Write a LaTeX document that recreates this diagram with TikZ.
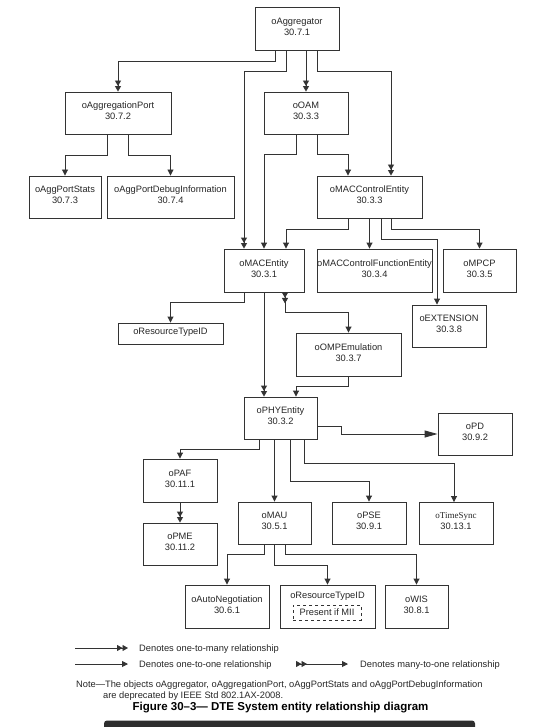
\documentclass[tikz,border=0pt]{standalone}
\usepackage{fontspec}
\setmainfont{Liberation Sans}
\newfontfamily\timesfont{Liberation Serif}
\usetikzlibrary{arrows.meta,positioning}

\begin{document}
\begin{tikzpicture}[x=1pt,y=-1pt,
  every node/.style={font=\fontsize{9.3}{11}\selectfont,text=black!85},
  entity/.style={draw=black!80,line width=.9pt,inner xsep=0pt,minimum height=42pt,align=center,text depth=4pt},
  one2one/.style={draw=black!80,line width=.9pt,-{Triangle[length=6pt,width=6pt]}},
  one2many/.style={draw=black!80,line width=.9pt,-{Triangle[length=5.5pt,width=6pt,sep=0pt]Triangle[length=5.5pt,width=6pt]}},
  many2one/.style={draw=black!80,line width=.9pt,{Triangle[reversed,length=5.5pt,width=6pt,sep=0pt]Triangle[reversed,length=5.5pt,width=6pt]}-{Triangle[length=6pt,width=6pt]}}]
\useasboundingbox (0,0) rectangle (558,727);
% entities
\node[entity,minimum width=84pt,minimum height=43pt] (agg) at (297,28.5) {oAggregator\\30.7.1};
\node[entity,minimum width=106pt] (aggport) at (118,113) {oAggregationPort\\30.7.2};
\node[entity,minimum width=84pt] (oam) at (306,113) {oOAM\\30.3.3};
\node[entity,minimum width=72pt] (aggstats) at (65,197) {oAggPortStats\\30.7.3};
\node[entity,minimum width=127pt] (aggdebug) at (170.5,197) {oAggPortDebugInformation\\30.7.4};
\node[entity,minimum width=105pt] (macctl) at (369.5,197) {oMACControlEntity\\30.3.3};
\node[entity,minimum width=80pt,minimum height=43pt] (macent) at (264,270.5) {oMACEntity\\30.3.1};
\node[entity,minimum width=115pt,minimum height=43pt] (macfunc) at (374.5,270.5) {oMACControlFunctionEntity\\30.3.4};
\node[entity,minimum width=73pt,minimum height=43pt] (mpcp) at (479.5,270.5) {oMPCP\\30.3.5};
\node[entity,minimum width=74pt] (ext) at (449,326) {oEXTENSION\\30.3.8};
\node[entity,minimum width=105pt,minimum height=21pt] (restype) at (170.5,333.5) {oResourceTypeID};
\node[entity,minimum width=105pt,minimum height=43pt] (ompe) at (348.5,354.5) {oOMPEmulation\\30.3.7};
\node[entity,minimum width=73pt] (phy) at (280.5,418) {oPHYEntity\\30.3.2};
\node[entity,minimum width=74pt] (pd) at (475,434) {oPD\\30.9.2};
\node[entity,minimum width=74pt,minimum height=43pt] (paf) at (180,480.5) {oPAF\\30.11.1};
\node[entity,minimum width=74pt] (pme) at (180,544) {oPME\\30.11.2};
\node[entity,minimum width=73pt] (mau) at (274.5,523) {oMAU\\30.5.1};
\node[entity,minimum width=74pt] (pse) at (369,523) {oPSE\\30.9.1};
\node[entity,minimum width=74pt] (tsync) at (456,523.5) {{\timesfont\fontsize{9}{11}\selectfont oTimeSync}\\30.13.1};
\node[entity,minimum width=84pt,minimum height=43pt] (autoneg) at (227,606.5) {oAutoNegotiation\\30.6.1};
\node[entity,minimum width=95pt,minimum height=43pt] (restype2) at (327.5,606.5) {};
\node (rt2title) at (327.5,596) {oResourceTypeID};
\node[draw=black!80,dashed,line width=.9pt,minimum width=68pt,minimum height=15pt,inner sep=0pt] (mii) at (327,612.5) {Present if MII};
\node[entity,minimum width=63pt,minimum height=43pt] (wis) at (416.5,606.5) {oWIS\\30.8.1};
% relationships
\draw[one2many] ([xshift=-22pt]agg.south) -- ++(0,11) -| (aggport.north);
\draw[one2many] ([xshift=-11pt]agg.south) -- ++(0,21) -| ([xshift=-20pt]macent.north);
\draw[one2many] ([xshift=9pt]agg.south) -- (oam.north);
\draw[one2many] ([xshift=20pt]agg.south) -- ++(0,21) -| ([xshift=21.5pt]macctl.north);
\draw[one2one] ([xshift=-11pt]aggport.south) -- ++(0,21) -| (aggstats.north);
\draw[one2one] ([xshift=10pt]aggport.south) -- ++(0,21) -| (aggdebug.north);
\draw[one2one] ([xshift=-10pt]oam.south) -- ++(0,20) -| (macent.north);
\draw[one2one] ([xshift=11pt]oam.south) -- ++(0,20) -| ([xshift=-21.5pt]macctl.north);
\draw[one2one] ([xshift=-21.5pt]macctl.south) -- ++(0,11) -| ([xshift=22pt]macent.north);
\draw[one2one] (macctl.south) -- (macctl.south |- macfunc.north);
\draw[one2one] ([xshift=11.5pt]macctl.south) -- ++(0,21) -| ([xshift=-12pt]ext.north);
\draw[one2one] ([xshift=21.5pt]macctl.south) -- ++(0,11) -| (mpcp.north);
\draw[one2one] ([xshift=-20pt]macent.south) -- ++(0,10) -| (restype.north);
\draw[one2many] (macent.south) -- (macent.south |- phy.north);
\draw[many2one] ([xshift=21pt]macent.south) -- ++(0,20) -| (ompe.north);
\draw[one2one] (ompe.south) -- ++(0,10) -| ([xshift=15.5pt]phy.north);
\draw[draw=black!80,line width=.9pt,-{Triangle[length=13pt,width=7pt]}] ([yshift=-8pt]phy.east) -- ++(24,0) |- (pd.west);
\draw[one2one] ([xshift=-21.5pt]phy.south) -- ++(0,10) -| (paf.north);
\draw[one2one] (mau.north |- phy.south) -- (mau.north);
\draw[one2one] ([xshift=9.5pt]phy.south) -- ++(0,42) -| (pse.north);
\draw[one2one] ([xshift=23.5pt]phy.south) -- ++(0,24) -| ([xshift=-2pt]tsync.north);
\draw[one2many] (paf.south) -- (pme.north);
\draw[one2one] ([xshift=-10.5pt]mau.south) -- ++(0,10) -| (autoneg.north);
\draw[one2one] (mau.south) -- ++(0,21) -| (restype2.north);
\draw[one2one] ([xshift=10.5pt]mau.south) -- ++(0,10) -| (wis.north);
% legend
\coordinate (k1a) at (75,648); \coordinate (k1b) at (128,648);
\coordinate (k2a) at (75,664); \coordinate (k2b) at (128,664);
\coordinate (k3a) at (296,664); \coordinate (k3b) at (348,664);
\draw[one2many] (k1a) -- (k1b);
\draw[one2one] (k2a) -- (k2b);
\draw[many2one] (k3a) -- (k3b);
\node[anchor=west,inner sep=0pt] (k1t) at (139,649.5) {Denotes one-to-many relationship};
\node[anchor=west,inner sep=0pt] (k2t) at (139,665.5) {Denotes one-to-one relationship};
\node[anchor=west,inner sep=0pt] (k3t) at (360,665.5) {Denotes many-to-one relationship};
% note and caption
\node[anchor=base west,inner sep=0pt] (note1) at (76,687) {Note—The objects oAggregator, oAggregationPort, oAggPortStats and oAggPortDebugInformation};
\node[anchor=base west,inner sep=0pt] (note2) at (103,698.5) {are deprecated by IEEE Std 802.1AX-2008.};
\node[anchor=base,inner sep=0pt,font=\fontsize{11.5}{13}\selectfont\bfseries,text=black] (caption) at (280.5,710) {Figure 30–3— DTE System entity relationship diagram};
\fill[black!82,rounded corners=3pt] (104,731) rectangle (475,720.5);
\end{tikzpicture}
\end{document}
